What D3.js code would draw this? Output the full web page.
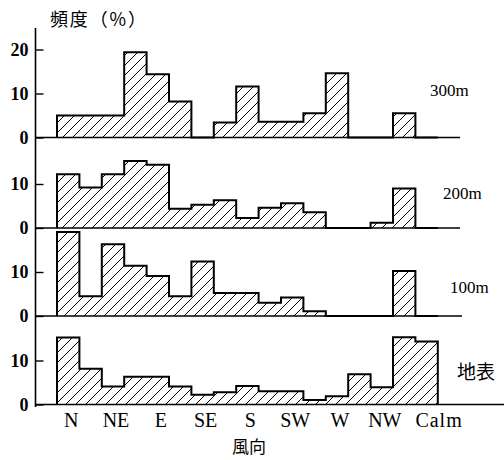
<!DOCTYPE html>
<html>
<head>
<meta charset="utf-8">
<script src="https://cdn.jsdelivr.net/npm/d3@7"></script>
<style>
  body { margin: 0; background: #fff; }
  svg { display: block; }
</style>
</head>
<body>
<svg width="504" height="460"></svg>
<script>
const dirs = ["N", "NNE", "NE", "ENE", "E", "ESE", "SE", "SSE", "S", "SSW", "SW", "WSW", "W", "WNW", "NW", "NNW", "Calm"];
const dirLabels = ["N", "NE", "E", "SE", "S", "SW", "W", "NW", "Calm"];
const levels = ["300m", "200m", "100m", "地表"];

// frequency (%) per direction
const freq300 = [5, 5, 5, 19.4, 14.4, 8.2, 0, 3.4, 11.6, 3.6, 3.6, 5.5, 14.6, 0, 0, 5.5, 0];
const freq200 = [12.2, 9.2, 12.2, 15.2, 14.4, 4.4, 5.3, 6.3, 2.3, 4.6, 5.6, 3.6, 0, 0, 1.2, 9, 0];
const freq100 = [19.1, 4.5, 16.3, 11.4, 9.1, 4.5, 12.4, 5.2, 5.2, 3, 4.2, 1.1, 0, 0, 0, 10.2, 0];
const freqSurface = [15.2, 8.1, 4.1, 6.3, 6.3, 4.1, 2.2, 2.8, 4.2, 3, 3, 1, 1.9, 6.9, 3.9, 15.3, 14.3];

const ticksTop = [0, 10, 20];
const ticksOther = [0, 10];

const allFreq = [freq300, freq200, freq100, freqSurface];

const svg = d3.select("svg");

const axisX = 35.5;
const baselines = [137.5, 228, 316, 404.5];
const pxPerUnit = 4.4;
const lineEnds = [460, 460, 462, 504];
const levelLabelPos = [[430, 96], [443, 199], [450, 293], [457, 379]];

const xScale = d3.scaleBand().domain(dirs).range([57, 437.8]).padding(0);

// hatch pattern
const defs = svg.append("defs");
const pat = defs.append("pattern")
  .attr("id", "hatch")
  .attr("patternUnits", "userSpaceOnUse")
  .attr("width", 10)
  .attr("height", 10);
pat.append("path")
  .attr("d", "M0,10 L10,0 M-2.5,2.5 L2.5,-2.5 M7.5,12.5 L12.5,7.5")
  .attr("stroke", "#000")
  .attr("stroke-width", 1);

allFreq.forEach((vals, i) => {
  const base = baselines[i];
  const yScale = d3.scaleLinear().domain([0, 10]).range([base, base - 10 * pxPerUnit]);

  const g = svg.append("g");

  // step points: start at 0, each bin start with its value, close at the end
  const pts = [{ x: xScale(dirs[0]), v: 0 }];
  dirs.forEach((d, j) => pts.push({ x: xScale(d), v: vals[j] }));
  pts.push({ x: xScale(dirs[dirs.length - 1]) + xScale.bandwidth(), v: 0 });

  const area = d3.area()
    .x((d) => d.x)
    .y0(base)
    .y1((d) => yScale(d.v))
    .curve(d3.curveStepAfter);

  const line = d3.line()
    .x((d) => d.x)
    .y((d) => yScale(d.v))
    .curve(d3.curveStepAfter);

  g.append("path")
    .attr("d", area(pts))
    .attr("fill", "url(#hatch)");

  // baseline
  g.append("line")
    .attr("x1", axisX)
    .attr("x2", lineEnds[i])
    .attr("y1", base)
    .attr("y2", base)
    .attr("stroke", "#000")
    .attr("stroke-width", 1.6);

  g.append("path")
    .attr("d", line(pts))
    .attr("fill", "none")
    .attr("stroke", "#000")
    .attr("stroke-width", 2)
    .attr("stroke-linejoin", "miter");

  // y axis ticks
  const yAxis = d3.axisLeft(yScale)
    .tickValues(i === 0 ? ticksTop : ticksOther)
    .tickFormat(d3.format("d"))
    .tickSize(-8)
    .tickPadding(7);

  const ax = g.append("g")
    .attr("transform", `translate(${axisX},0)`)
    .call(yAxis);
  ax.select(".domain").remove();
  ax.selectAll("line").attr("stroke", "#000").attr("stroke-width", 1.4);
  ax.selectAll("text")
    .attr("font-family", "Liberation Serif")
    .attr("font-size", 18)
    .attr("font-weight", "bold")
    .attr("fill", "#000");

  svg.append("text")
    .attr("x", levelLabelPos[i][0])
    .attr("y", levelLabelPos[i][1])
    .attr("font-family", i === 3 ? "Noto Sans CJK JP" : "Liberation Serif")
    .attr("font-size", i === 3 ? 19 : 17)
    .text(levels[i]);
});

// continuous vertical axis
svg.append("line")
  .attr("x1", axisX)
  .attr("x2", axisX)
  .attr("y1", 28)
  .attr("y2", 407)
  .attr("stroke", "#000")
  .attr("stroke-width", 1.6);

// direction labels
svg.append("g")
  .selectAll("text")
  .data(dirLabels)
  .join("text")
  .attr("x", (d) => d === "Calm" ? xScale(d) : xScale(d) + xScale.bandwidth() / 2 + 3)
  .attr("y", 427)
  .attr("text-anchor", (d) => d === "Calm" ? "start" : "middle")
  .attr("letter-spacing", (d) => d === "Calm" ? 1 : 0)
  .attr("font-family", "Liberation Serif")
  .attr("font-size", 20)
  .text((d) => d);

svg.append("text")
  .attr("x", 50)
  .attr("y", 26)
  .attr("font-family", "Noto Sans CJK JP")
  .attr("font-size", 18)
  .attr("textLength", 96)
  .attr("lengthAdjust", "spacing")
  .text("頻度（%）");

svg.append("text")
  .attr("x", 249)
  .attr("y", 453)
  .attr("text-anchor", "middle")
  .attr("font-family", "Noto Sans CJK JP")
  .attr("font-size", 17)
  .text("風向");
</script>
</body>
</html>
